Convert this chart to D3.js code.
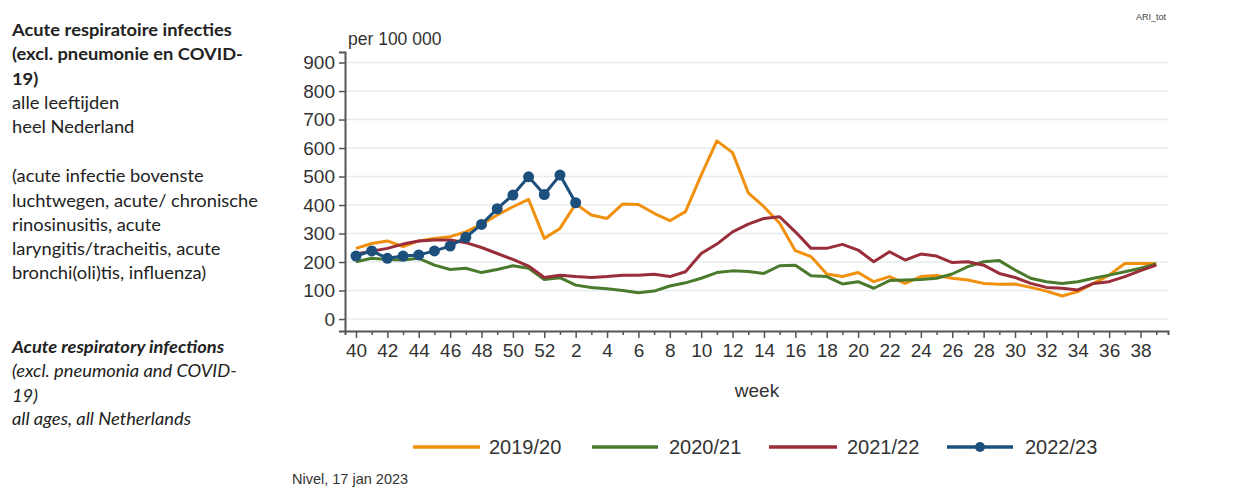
<!DOCTYPE html>
<html>
<head>
<meta charset="utf-8">
<script src="https://cdn.jsdelivr.net/npm/d3@7"></script>
<style>
  html, body { margin: 0; padding: 0; background: #ffffff; }
  svg { display: block; }
</style>
</head>
<body>
<svg id="chart" width="1243" height="499"></svg>
<script>
// ---- data ----
const weeks = [40,41,42,43,44,45,46,47,48,49,50,51,52,1,2,3,4,5,6,7,8,9,10,11,12,13,14,15,16,17,18,19,20,21,22,23,24,25,26,27,28,29,30,31,32,33,34,35,36,37,38,39];
const yTicks = [0,100,200,300,400,500,600,700,800,900];
const seriesNames = ["2019/20","2020/21","2021/22","2022/23"];
const s2019 = [248,265,274,254,274,283,289,306,332,365,394,420,283,318,404,365,353,404,402,371,345,377,505,625,584,443,394,336,240,219,158,149,163,131,149,125,149,153,143,137,125,122,123,111,98,81,96,125,154,195,195,195];
const s2020 = [201,213,209,207,213,189,174,178,163,174,187,178,139,145,119,111,106,100,92,98,116,127,143,163,169,167,160,187,189,152,149,123,131,108,135,137,139,143,158,184,201,205,172,143,131,125,131,143,154,166,178,193];
const s2021 = [228,238,248,263,274,277,277,268,251,230,209,186,146,154,149,146,149,154,154,157,149,166,230,263,306,333,353,359,306,248,248,262,242,201,236,207,228,221,198,201,189,160,146,125,111,108,102,125,131,149,170,189];
const s2022 = [221,239,213,221,225,239,256,287,332,387,435,499,437,505,408];
const colors = ["#f0900d","#4a7a2c","#992d3a","#1c4f7c"];

const svg = d3.select("#chart");

// ---- left description text ----
const leftFont = "Lato, 'Open Sans', sans-serif";
const leftLines = [
  {t:"Acute respiratoire infecties", y:36, w:"bold", s:"normal"},
  {t:"(excl. pneumonie en COVID-", y:60, w:"bold", s:"normal"},
  {t:"19)", y:85, w:"bold", s:"normal"},
  {t:"alle leeftijden", y:109, w:"normal", s:"normal"},
  {t:"heel Nederland", y:133, w:"normal", s:"normal"},
  {t:"(acute infectie bovenste", y:182, w:"normal", s:"normal"},
  {t:"luchtwegen, acute/ chronische", y:207, w:"normal", s:"normal"},
  {t:"rinosinusitis, acute", y:231, w:"normal", s:"normal"},
  {t:"laryngitis/tracheitis, acute", y:255, w:"normal", s:"normal"},
  {t:"bronchi(oli)tis, influenza)", y:279, w:"normal", s:"normal"},
  {t:"Acute respiratory infections", y:353, w:"bold", s:"italic"},
  {t:"(excl. pneumonia and COVID-", y:377, w:"normal", s:"italic"},
  {t:"19)", y:402, w:"normal", s:"italic"},
  {t:"all ages, all Netherlands", y:425, w:"normal", s:"italic"}
];
const sx = 1.11;
svg.append("g").attr("transform", `translate(12,0) scale(${sx},1)`)
  .selectAll("text").data(leftLines).join("text")
  .attr("x", 0).attr("y", d => d.y)
  .attr("font-family", leftFont).attr("font-size", 16.5)
  .attr("font-weight", d => d.w).attr("font-style", d => d.s)
  .attr("fill", "#222")
  .text(d => d.t);

// ---- scales ----
const x = d3.scaleLinear().domain([-0.7, 51.75]).range([345, 1168]);
const y = d3.scaleLinear().domain([-42, 937]).range([331, 52]);
const chartFont = "'Liberation Sans', Arial, Helvetica, sans-serif";

// gridlines
svg.append("g").selectAll("line").data(yTicks).join("line")
  .attr("x1", 346).attr("x2", 1168)
  .attr("y1", d => y(d)).attr("y2", d => y(d))
  .attr("stroke", "#e6ecf0").attr("stroke-width", 1.5);

// y axis
const yAxis = svg.append("g").attr("transform", "translate(345,0)")
  .call(d3.axisLeft(y).tickValues(yTicks).tickSizeOuter(0).tickSize(6).tickPadding(4));
yAxis.select(".domain").attr("stroke", "#555").attr("stroke-width", 2);
yAxis.selectAll(".tick line").attr("stroke", "#555").attr("stroke-width", 1.5);
yAxis.selectAll(".tick text").attr("font-family", chartFont).attr("font-size", 19).attr("fill", "#333");

// x axis: minor ticks (every week)
const idx = d3.range(weeks.length);
const xMinor = svg.append("g").attr("transform", "translate(0,331)")
  .call(d3.axisBottom(x).tickValues(idx.filter(i => weeks[i] % 2 === 1)).tickSizeOuter(0).tickSize(4).tickFormat(""));
xMinor.select(".domain").attr("stroke", "#555").attr("stroke-width", 2);
xMinor.selectAll(".tick line").attr("stroke", "#555").attr("stroke-width", 1.5);
// major ticks with labels
const xAxis = svg.append("g").attr("transform", "translate(0,331)")
  .call(d3.axisBottom(x).tickValues(idx.filter(i => weeks[i] % 2 === 0)).tickSizeOuter(0).tickSize(7).tickPadding(6)
    .tickFormat(i => weeks[i]));
xAxis.select(".domain").remove();
xAxis.selectAll(".tick line").attr("stroke", "#555").attr("stroke-width", 1.5);
xAxis.selectAll(".tick text").attr("font-family", chartFont).attr("font-size", 19).attr("fill", "#333");

// axis titles
svg.append("text").attr("x", 348).attr("y", 45)
  .attr("font-family", chartFont).attr("font-size", 17.5).attr("fill", "#333")
  .text("per 100 000");
svg.append("text").attr("x", 757).attr("y", 397).attr("text-anchor", "middle")
  .attr("font-family", chartFont).attr("font-size", 19).attr("fill", "#333")
  .text("week");
svg.append("text").attr("x", 1166).attr("y", 20).attr("text-anchor", "end")
  .attr("font-family", chartFont).attr("font-size", 9).attr("fill", "#444")
  .text("ARI_tot");
svg.append("text").attr("x", 292).attr("y", 484)
  .attr("font-family", chartFont).attr("font-size", 14.5).attr("fill", "#333")
  .text("Nivel, 17 jan 2023");

// ---- lines ----
const line = d3.line().x((d, i) => x(i)).y(d => y(d));
const allSeries = [s2019, s2020, s2021, s2022];
svg.append("g").selectAll("path").data(allSeries).join("path")
  .attr("d", d => line(d))
  .attr("fill", "none")
  .attr("stroke", (d, i) => colors[i])
  .attr("stroke-width", 3)
  .attr("stroke-linejoin", "round");

svg.append("g").selectAll("circle").data(s2022).join("circle")
  .attr("cx", (d, i) => x(i)).attr("cy", d => y(d)).attr("r", 5.5)
  .attr("fill", colors[3]);

// ---- legend ----
const legendItems = [
  {x1:413, x2:480, tx:489},
  {x1:592, x2:658, tx:669},
  {x1:769, x2:837, tx:847},
  {x1:947, x2:1013, tx:1025}
];
const lg = svg.append("g");
legendItems.forEach((it, i) => {
  lg.append("line").attr("x1", it.x1).attr("x2", it.x2).attr("y1", 447).attr("y2", 447)
    .attr("stroke", colors[i]).attr("stroke-width", 3.5);
  if (i === 3) {
    lg.append("circle").attr("cx", (it.x1 + it.x2) / 2).attr("cy", 447).attr("r", 5).attr("fill", colors[i]);
  }
  lg.append("text").attr("x", it.tx).attr("y", 454)
    .attr("font-family", chartFont).attr("font-size", 20).attr("fill", "#333")
    .text(seriesNames[i]);
});
</script>
</body>
</html>
